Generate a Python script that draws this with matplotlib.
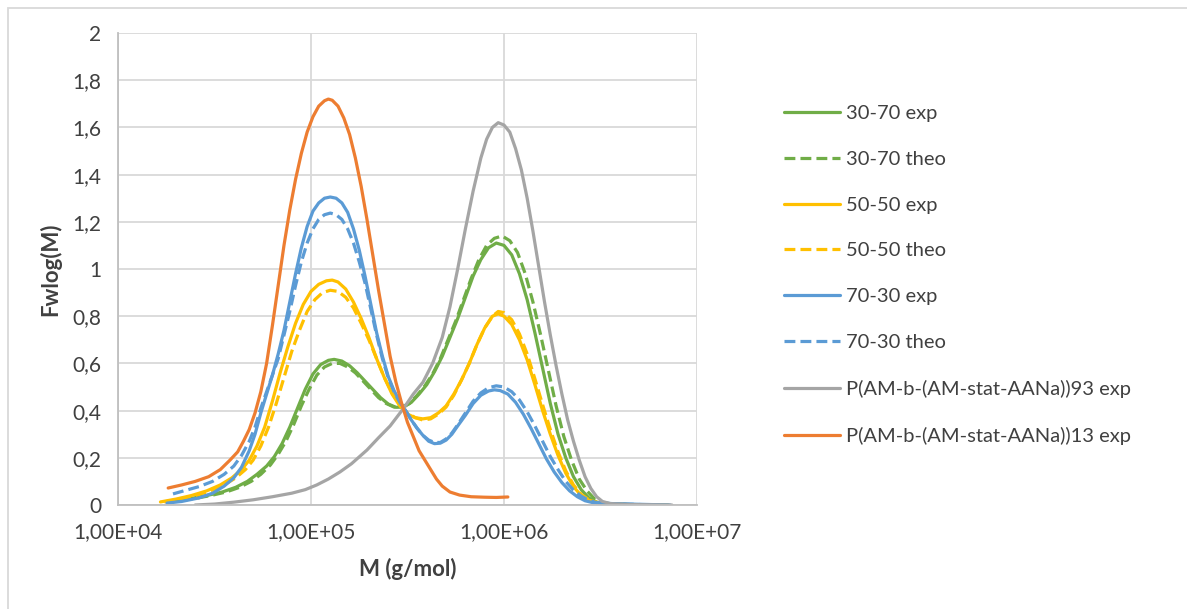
import matplotlib
matplotlib.use("Agg")
import matplotlib.pyplot as plt
import numpy as np
from matplotlib.patches import Rectangle
from matplotlib.ticker import FixedLocator, FuncFormatter, NullLocator

# log10(M) and Fwlog(M)
green_exp_logm = [4.30, 4.38, 4.46, 4.54, 4.61, 4.67, 4.72, 4.77, 4.81, 4.85, 4.89, 4.93, 4.97, 5.01,
                  5.05, 5.09, 5.12, 5.16, 5.20, 5.24, 5.28, 5.32, 5.36, 5.40, 5.44, 5.48, 5.52, 5.56,
                  5.60, 5.64, 5.68, 5.72, 5.76, 5.80, 5.84, 5.88, 5.92, 5.96, 6.00, 6.04, 6.08, 6.12,
                  6.16, 6.20, 6.24, 6.28, 6.32, 6.36, 6.40, 6.44, 6.48, 6.53, 6.65, 6.85]
green_exp_y = [0.015, 0.028, 0.04, 0.055, 0.075, 0.10, 0.13, 0.165, 0.205, 0.26, 0.33, 0.41, 0.49, 0.555,
               0.595, 0.613, 0.617, 0.61, 0.59, 0.56, 0.525, 0.49, 0.455, 0.428, 0.414, 0.415, 0.435, 0.47,
               0.51, 0.565, 0.63, 0.71, 0.79, 0.88, 0.97, 1.04, 1.09, 1.11, 1.10, 1.06, 0.98, 0.87,
               0.73, 0.58, 0.43, 0.30, 0.20, 0.12, 0.065, 0.03, 0.012, 0.006, 0.002, 0.0]

green_theo_logm = [4.33, 4.40, 4.48, 4.56, 4.63, 4.69, 4.74, 4.79, 4.83, 4.87, 4.91, 4.95, 4.99, 5.03,
                   5.07, 5.11, 5.15, 5.19, 5.23, 5.27, 5.31, 5.35, 5.39, 5.43, 5.47, 5.51, 5.55, 5.59,
                   5.63, 5.67, 5.71, 5.75, 5.79, 5.83, 5.87, 5.91, 5.95, 5.99, 6.03, 6.07, 6.11, 6.15,
                   6.19, 6.23, 6.27, 6.31, 6.35, 6.39, 6.43, 6.47, 6.51, 6.56, 6.70, 6.80]
green_theo_y = [0.02, 0.028, 0.04, 0.055, 0.075, 0.10, 0.13, 0.17, 0.215, 0.27, 0.34, 0.42, 0.49, 0.55,
                0.585, 0.60, 0.60, 0.585, 0.56, 0.525, 0.49, 0.455, 0.43, 0.415, 0.415, 0.43, 0.465, 0.505,
                0.555, 0.62, 0.70, 0.78, 0.87, 0.96, 1.04, 1.10, 1.13, 1.14, 1.12, 1.07, 0.98, 0.86,
                0.72, 0.57, 0.42, 0.29, 0.19, 0.11, 0.06, 0.025, 0.01, 0.004, 0.001, 0.0]

yellow_exp_logm = [4.22, 4.30, 4.38, 4.46, 4.53, 4.59, 4.64, 4.68, 4.72, 4.76, 4.80, 4.84, 4.88, 4.92,
                   4.96, 5.00, 5.04, 5.08, 5.11, 5.14, 5.18, 5.22, 5.26, 5.30, 5.34, 5.38, 5.42, 5.46,
                   5.50, 5.54, 5.58, 5.62, 5.66, 5.70, 5.74, 5.78, 5.82, 5.86, 5.90, 5.94, 5.97, 6.00,
                   6.04, 6.08, 6.12, 6.16, 6.20, 6.24, 6.28, 6.32, 6.36, 6.40, 6.44, 6.50]
yellow_exp_y = [0.013, 0.025, 0.04, 0.06, 0.085, 0.115, 0.15, 0.19, 0.25, 0.33, 0.44, 0.56, 0.67, 0.77,
                0.85, 0.905, 0.935, 0.95, 0.953, 0.945, 0.915, 0.86, 0.79, 0.71, 0.62, 0.54, 0.47, 0.42,
                0.385, 0.37, 0.365, 0.37, 0.39, 0.42, 0.47, 0.53, 0.60, 0.68, 0.75, 0.80, 0.81, 0.80,
                0.765, 0.70, 0.615, 0.51, 0.40, 0.30, 0.21, 0.135, 0.078, 0.04, 0.02, 0.008]

yellow_theo_logm = [4.24, 4.32, 4.40, 4.48, 4.55, 4.61, 4.66, 4.70, 4.74, 4.78, 4.82, 4.86, 4.90, 4.94,
                    4.98, 5.02, 5.06, 5.10, 5.14, 5.18, 5.22, 5.26, 5.30, 5.34, 5.38, 5.42, 5.46, 5.50,
                    5.54, 5.58, 5.62, 5.66, 5.70, 5.74, 5.78, 5.82, 5.86, 5.90, 5.94, 5.97, 6.00, 6.04,
                    6.08, 6.12, 6.16, 6.20, 6.24, 6.28, 6.32, 6.36, 6.40, 6.44, 6.48, 6.53]
yellow_theo_y = [0.013, 0.025, 0.04, 0.06, 0.085, 0.115, 0.15, 0.19, 0.25, 0.33, 0.43, 0.54, 0.65, 0.74,
                 0.82, 0.87, 0.90, 0.91, 0.905, 0.88, 0.835, 0.77, 0.70, 0.62, 0.54, 0.475, 0.425, 0.39,
                 0.37, 0.36, 0.365, 0.385, 0.415, 0.465, 0.53, 0.60, 0.68, 0.75, 0.80, 0.82, 0.815, 0.785,
                 0.725, 0.64, 0.535, 0.425, 0.32, 0.225, 0.145, 0.085, 0.045, 0.022, 0.01, 0.005]

blue_exp_logm = [4.254, 4.33, 4.42, 4.49, 4.55, 4.60, 4.64, 4.68, 4.71, 4.74, 4.77, 4.80, 4.83, 4.86,
                 4.89, 4.92, 4.95, 4.98, 5.01, 5.04, 5.07, 5.10, 5.13, 5.16, 5.19, 5.22, 5.25, 5.28,
                 5.31, 5.34, 5.37, 5.40, 5.43, 5.46, 5.49, 5.52, 5.55, 5.58, 5.61, 5.64, 5.67, 5.70,
                 5.73, 5.76, 5.80, 5.84, 5.88, 5.92, 5.95, 5.98, 6.02, 6.06, 6.10, 6.14, 6.18, 6.22,
                 6.26, 6.30, 6.34, 6.38, 6.42, 6.46, 6.55, 6.70, 6.86]
blue_exp_y = [0.008, 0.015, 0.03, 0.05, 0.08, 0.115, 0.16, 0.23, 0.30, 0.39, 0.47, 0.55, 0.64, 0.74,
              0.86, 0.98, 1.09, 1.18, 1.245, 1.28, 1.30, 1.305, 1.30, 1.28, 1.24, 1.17, 1.08, 0.97,
              0.85, 0.73, 0.63, 0.545, 0.485, 0.44, 0.40, 0.36, 0.325, 0.295, 0.27, 0.26, 0.262, 0.275,
              0.30, 0.335, 0.38, 0.43, 0.465, 0.483, 0.488, 0.485, 0.47, 0.435, 0.385, 0.325, 0.26, 0.195,
              0.14, 0.095, 0.06, 0.035, 0.018, 0.01, 0.006, 0.003, 0.0]

blue_theo_logm = [4.285, 4.35, 4.42, 4.49, 4.55, 4.60, 4.64, 4.68, 4.71, 4.74, 4.77, 4.80, 4.83, 4.86,
                  4.89, 4.92, 4.95, 4.98, 5.01, 5.04, 5.07, 5.10, 5.13, 5.16, 5.19, 5.22, 5.25, 5.28,
                  5.31, 5.34, 5.37, 5.40, 5.43, 5.46, 5.49, 5.52, 5.55, 5.58, 5.61, 5.64, 5.67, 5.70,
                  5.73, 5.76, 5.80, 5.84, 5.88, 5.92, 5.96, 6.00, 6.04, 6.08, 6.12, 6.16, 6.20, 6.24,
                  6.28, 6.32, 6.36, 6.40, 6.44, 6.48, 6.60, 6.80]
blue_theo_y = [0.047, 0.062, 0.078, 0.10, 0.13, 0.165, 0.21, 0.27, 0.33, 0.41, 0.48, 0.55, 0.62, 0.72,
               0.82, 0.93, 1.03, 1.11, 1.17, 1.21, 1.23, 1.237, 1.23, 1.21, 1.17, 1.11, 1.03, 0.94,
               0.83, 0.72, 0.62, 0.54, 0.48, 0.435, 0.40, 0.36, 0.325, 0.295, 0.275, 0.265, 0.265, 0.28,
               0.305, 0.34, 0.39, 0.44, 0.475, 0.497, 0.505, 0.50, 0.48, 0.445, 0.395, 0.335, 0.27, 0.205,
               0.15, 0.10, 0.063, 0.037, 0.02, 0.01, 0.004, 0.0]

gray_logm = [4.40, 4.50, 4.60, 4.70, 4.80, 4.90, 4.97, 5.03, 5.09, 5.15, 5.21, 5.29, 5.35, 5.41,
             5.48, 5.53, 5.58, 5.63, 5.68, 5.72, 5.76, 5.80, 5.84, 5.88, 5.91, 5.94, 5.97, 6.00,
             6.03, 6.06, 6.09, 6.12, 6.15, 6.18, 6.21, 6.24, 6.27, 6.30, 6.33, 6.36, 6.39, 6.42,
             6.45, 6.48, 6.51, 6.55, 6.65, 6.87]
gray_y = [0.0, 0.004, 0.012, 0.022, 0.035, 0.05, 0.065, 0.085, 0.11, 0.14, 0.175, 0.233, 0.285, 0.335,
          0.41, 0.47, 0.52, 0.60, 0.71, 0.84, 1.00, 1.17, 1.33, 1.47, 1.55, 1.60, 1.62, 1.61,
          1.58, 1.51, 1.42, 1.30, 1.16, 1.01, 0.86, 0.72, 0.59, 0.47, 0.36, 0.27, 0.19, 0.12,
          0.07, 0.035, 0.015, 0.006, 0.002, 0.0]

orange_logm = [4.26, 4.33, 4.40, 4.47, 4.53, 4.58, 4.62, 4.65, 4.68, 4.71, 4.74, 4.77, 4.80, 4.83,
               4.86, 4.89, 4.92, 4.95, 4.98, 5.01, 5.04, 5.07, 5.09, 5.11, 5.14, 5.17, 5.20, 5.23,
               5.26, 5.29, 5.32, 5.35, 5.38, 5.41, 5.44, 5.47, 5.50, 5.53, 5.56, 5.59, 5.62, 5.65,
               5.68, 5.72, 5.77, 5.83, 5.90, 5.96, 6.02]
orange_y = [0.072, 0.085, 0.10, 0.12, 0.15, 0.19, 0.225, 0.27, 0.32, 0.39, 0.48, 0.60, 0.76, 0.93,
            1.10, 1.25, 1.38, 1.49, 1.58, 1.645, 1.69, 1.713, 1.72, 1.715, 1.69, 1.64, 1.57, 1.47,
            1.35, 1.21, 1.06, 0.91, 0.77, 0.63, 0.52, 0.43, 0.35, 0.29, 0.23, 0.19, 0.15, 0.11,
            0.08, 0.055, 0.042, 0.035, 0.033, 0.032, 0.034]

series = [
    ("30-70 exp", green_exp_logm, green_exp_y, "#70AD47", "-"),
    ("30-70 theo", green_theo_logm, green_theo_y, "#70AD47", "--"),
    ("50-50 exp", yellow_exp_logm, yellow_exp_y, "#FFC000", "-"),
    ("50-50 theo", yellow_theo_logm, yellow_theo_y, "#FFC000", "--"),
    ("70-30 exp", blue_exp_logm, blue_exp_y, "#5B9BD5", "-"),
    ("70-30 theo", blue_theo_logm, blue_theo_y, "#5B9BD5", "--"),
    ("P(AM-b-(AM-stat-AANa))93 exp", gray_logm, gray_y, "#A5A5A5", "-"),
    ("P(AM-b-(AM-stat-AANa))13 exp", orange_logm, orange_y, "#ED7D31", "-"),
]

plt.rcParams["font.family"] = ["Lato", "DejaVu Sans"]

fig = plt.figure(figsize=(11.87, 6.09), dpi=100)
ax = fig.add_axes([118 / 1187, 104 / 609, 579 / 1187, 472 / 609])

for label, logm, y, color, ls in series:
    m = 10 ** np.array(logm)
    line, = ax.plot(m, y, color=color, lw=2.3, label=label,
                    solid_capstyle="round", solid_joinstyle="round")
    if ls == "--":
        line.set_dashes((3.4, 1.6))

ax.set_xscale("log")
ax.set_xlim(1e4, 1e7)
ax.set_ylim(0, 2)
ax.xaxis.set_major_locator(FixedLocator([1e4, 1e5, 1e6, 1e7]))
ax.xaxis.set_minor_locator(NullLocator())
ax.set_yticks(np.arange(0, 2.01, 0.2))
ax.xaxis.set_major_formatter(FuncFormatter(lambda v, p: f"{v:.2E}".replace(".", ",")))
ax.yaxis.set_major_formatter(FuncFormatter(lambda v, p: f"{round(v, 1):g}".replace(".", ",")))
ax.tick_params(length=0, labelsize=15, colors="#404040")
ax.tick_params(axis="x", pad=12)
ax.tick_params(axis="y", pad=12)
ax.grid(True, color="#D9D9D9", lw=1.3)
ax.set_axisbelow(True)
for side in ["top", "right"]:
    ax.spines[side].set_visible(False)
for side in ["left", "bottom"]:
    ax.spines[side].set_color("#BFBFBF")
    ax.spines[side].set_linewidth(1.3)

ax.set_xlabel("M (g/mol)", fontsize=16, fontweight="bold", color="#404040", labelpad=12)
ax.set_ylabel("Fwlog(M)", fontsize=16, fontweight="bold", color="#404040", labelpad=8)

ax.legend(loc="upper left", bbox_to_anchor=(784 / 1187, 1 - 105 / 609),
          bbox_transform=fig.transFigure, frameon=False, fontsize=14.5,
          handlelength=2.8, handletextpad=0.3, labelspacing=1.425, borderpad=0,
          borderaxespad=0, labelcolor="#404040")

fig.patches.append(Rectangle((8 / 1187, -0.1), 1.2, 1.1 - 8 / 609, transform=fig.transFigure,
                             fill=False, edgecolor="#D9D9D9", lw=1.3))

fig.savefig("out.png", dpi=100, facecolor="white")
